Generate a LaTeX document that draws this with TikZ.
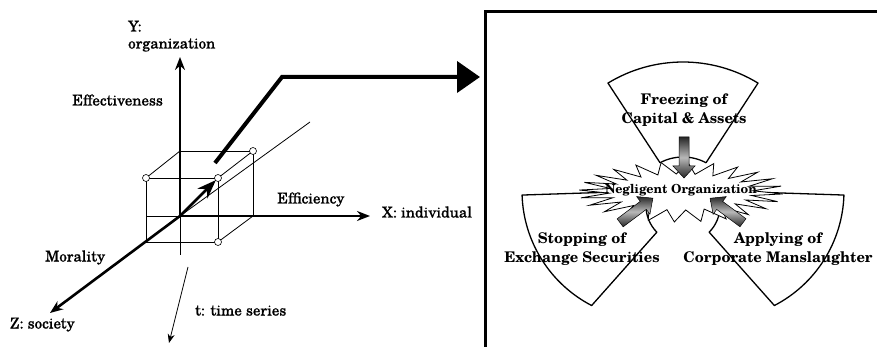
\documentclass[tikz,border=0pt]{standalone}
\usepackage{fontspec}
\setmainfont{TeX Gyre Schola}
\newfontfamily\medfont{TeX Gyre Schola}[FakeBold=0.8]
\usetikzlibrary{arrows.meta,calc}
\tikzset{
  lbl/.style={font=\medfont\fontsize{15}{17}\selectfont, inner sep=0pt, anchor=west, text height=10pt, text depth=3pt},
  cubeline/.style={line width=0.8pt},
  axisline/.style={-{Stealth[length=13pt,width=10pt]}},
  blade/.style={draw=black, line width=1.3pt, fill=white, line join=round},
  bladetxt/.style={font=\bfseries\fontsize{14.7}{19}\selectfont, align=center, inner sep=0pt},
  marker/.style={circle, draw=black, fill=white, line width=0.6pt, minimum size=7pt, inner sep=0pt},
  garrow/.style={draw=black, line width=0.5pt, top color=black!85, bottom color=black!85, middle color=gray!55},
}
\begin{document}
\begin{tikzpicture}[x=1pt,y=1pt,yscale=-1]
\useasboundingbox (0,0) rectangle (877,347);
% ---------- left panel: axes and cube ----------
\coordinate (O) at (180,216);
\coordinate (Ytip) at (180,57);
\coordinate (Ybot) at (180,255);
\coordinate (Xtip) at (370,216);
\coordinate (Xneg) at (146,216);
\coordinate (Ztip) at (50,313);
\coordinate (Zneg) at (310,122);
\coordinate (FTL) at (146,178);
\coordinate (FTR) at (218,178);
\coordinate (FBR) at (218,242);
\coordinate (FBL) at (146,242);
\coordinate (BTL) at (180,151);
\coordinate (BTR) at (253,151);
\coordinate (BBR) at (253,216);
\coordinate (Tstart) at (188,267);
\coordinate (Tend) at (169,343);
% cube
\draw[cubeline] (FTL) -- (FTR) -- (FBR) -- (FBL) -- cycle;
\draw[cubeline] (BTL) -- (BTR) -- (BBR);
\draw[cubeline] (FTL) -- (BTL);
\draw[cubeline] (FTR) -- (BTR);
\draw[cubeline] (FBR) -- (BBR);
% negative extensions
\draw[cubeline] (O) -- (Xneg);
\draw[cubeline] (O) -- (Ybot);
\draw[cubeline] (O) -- (Zneg);
% axes
\draw[axisline, line width=2pt] (O) -- (Ytip);
\draw[axisline, line width=2.2pt] (O) -- (Xtip);
\draw[axisline, line width=2.6pt] (O) -- (Ztip);
\draw[line width=2.6pt, -{Stealth[length=19pt,width=14pt]}, shorten >=3pt] (O) -- (FTR);
\draw[line width=0.8pt, -{Stealth[length=9pt,width=7pt]}] (Tstart) -- (Tend);
% markers
\node[marker] (m1) at (FTL) {};
\node[marker] (m2) at (FTR) {};
\node[marker] (m3) at (FBR) {};
\node[marker] (m4) at (BTR) {};
% labels
\node[lbl] (ylab1) at (128,28) {Y:};
\node[lbl] (ylab2) at (128,45) {organization};
\node[lbl] (eff) at (72,102) {Effectiveness};
\node[lbl] (effi) at (277,200) {Efficiency};
\node[lbl] (xlab) at (382,214) {X: individual};
\node[lbl] (mor) at (45,258) {Morality};
\node[lbl] (zlab) at (10,325) {Z: society};
\node[lbl] (tlab) at (195,312) {t: time series};
% ---------- connecting arrow ----------
\coordinate (P0) at (215,163);
\coordinate (P1) at (282,77);
\coordinate (P2) at (480,77);
\draw[line width=4pt, -{Triangle[length=23pt,width=31pt]}] (P0) -- (P1) -- (P2);
% ---------- right panel ----------
\draw[line width=3pt] (485,350) -- (485,12) -- (880,12);
\coordinate (C) at (683,206);
\coordinate (LC) at (651,191);
\coordinate (RC) at (715,191);
% top blade
\draw[blade] ($(C)+(238.6:144)$) arc[start angle=238.6, end angle=301.4, radius=144]
  -- ($(C)+(298:49)$) arc[start angle=298, end angle=242, radius=49] -- cycle;
% lower left blade
\draw[blade] ($(LC)+(117.4:129)$) arc[start angle=117.4, end angle=178.2, radius=129]
  -- (615,192) -- ($(C)+(180:37)$) arc[start angle=180, end angle=135, radius=37] -- cycle;
% lower right blade
\draw[blade] ($(RC)+(62.6:129)$) arc[start angle=62.6, end angle=1.8, radius=129]
  -- (751,192) -- ($(C)+(0:37)$) arc[start angle=0, end angle=45, radius=37] -- cycle;
% starburst
\draw[fill=white, line width=0.8pt, line join=miter]
  plot[samples at={0,...,47}] ({681+(isodd(\x)?72:102)*cos(\x*7.5+3.75)}, {192+(isodd(\x)?18:30)*sin(\x*7.5+3.75)}) -- cycle;
% shaded arrows
\begin{scope}[shift={(684,157.5)}, rotate=90]
\path[garrow] (-20.5,-5) -- (8.5,-5) -- (8.5,-11) -- (20.5,0) -- (8.5,11) -- (8.5,5) -- (-20.5,5) -- cycle;
\end{scope}
\begin{scope}[shift={(636.5,210.5)}, rotate=-37]
\path[garrow] (-20.5,-5) -- (8.5,-5) -- (8.5,-11) -- (20.5,0) -- (8.5,11) -- (8.5,5) -- (-20.5,5) -- cycle;
\end{scope}
\begin{scope}[shift={(726.5,210.5)}, rotate=-143.4]
\path[garrow] (-20.5,-5) -- (8.5,-5) -- (8.5,-11) -- (20.5,0) -- (8.5,11) -- (8.5,5) -- (-20.5,5) -- cycle;
\end{scope}
% texts
\node[bladetxt] (freeze) at (684,110) {Freezing of\\Capital \& Assets};
\node[bladetxt] (stop) at (582,249) {Stopping of\\Exchange Securities};
\node[bladetxt] (apply) at (778,249) {Applying of\\Corporate Manslaughter};
\node[font=\bfseries\fontsize{12.5}{14}\selectfont, inner sep=0pt] (neg) at (681,190) {Negligent Organization};
\end{tikzpicture}
\end{document}
